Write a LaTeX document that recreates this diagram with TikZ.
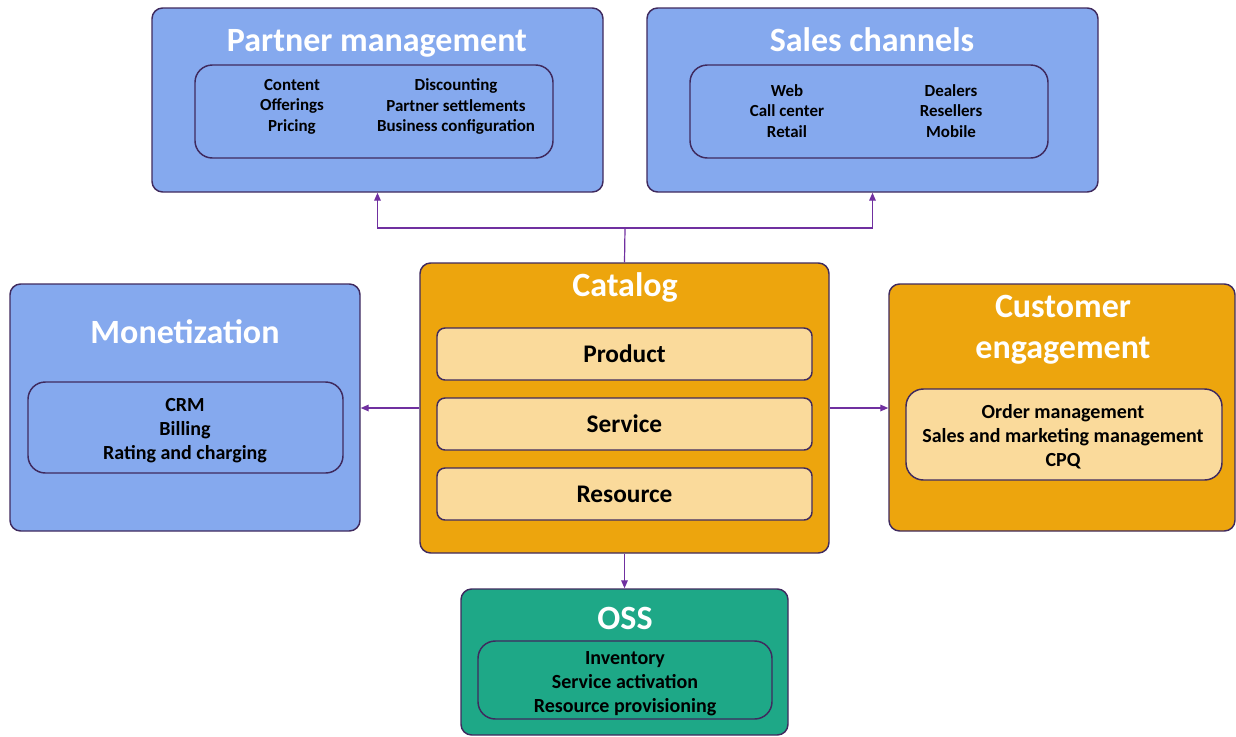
\documentclass[tikz,border=0pt]{standalone}
\usepackage{fontspec}
\setmainfont{Carlito}
\usetikzlibrary{fit,arrows.meta}
\definecolor{boxblue}{RGB}{133,169,238}
\definecolor{boxorange}{RGB}{237,165,13}
\definecolor{boxpeach}{RGB}{250,218,155}
\definecolor{boxteal}{RGB}{30,168,135}
\definecolor{edge}{RGB}{63,42,94}
\definecolor{linkc}{RGB}{112,48,160}
\begin{document}
\begin{tikzpicture}[x=0.75pt,y=-0.75pt,
  outer/.style={draw=edge, line width=1.1pt, rounded corners=8pt, inner sep=0pt},
  inner/.style={draw=edge, line width=1.1pt, rounded corners=13pt, inner sep=0pt},
  subbox/.style={draw=edge, line width=1.1pt, rounded corners=6pt, inner sep=0pt, fill=boxpeach,
    minimum width=281.25pt, minimum height=39pt},
  sublabel/.style={font=\bfseries\fontsize{19}{23}\selectfont},
  title/.style={text=white, align=center, font=\bfseries\fontsize{25.5}{30.75}\selectfont},
  smallitems/.style={align=center, font=\bfseries\fontsize{12.7}{15.4}\selectfont},
  items/.style={align=center, font=\bfseries\fontsize{15}{18}\selectfont},
  wire/.style={draw=linkc, line width=0.9pt},
  arrow/.style={wire, -{Triangle[length=6pt,width=5pt]}}]
\useasboundingbox (0,0) rectangle (1236,736);

% Partner management
\node[outer, fill=boxblue, fit={(152,8) (603,192)}] (pm) {};
\node[inner, fit={(195,65) (553,158)}] (pmin) {};
\node[title] (pmt) at (377,43) {Partner management};
\node[smallitems] (pma) at (292,106.5) {Content\\Offerings\\Pricing};
\node[smallitems] (pmb) at (456,106.5) {Discounting\\Partner settlements\\Business configuration};

% Sales channels
\node[outer, fill=boxblue, fit={(647,8) (1098,192)}] (sc) {};
\node[inner, fit={(690,65) (1048,158)}] (scin) {};
\node[title] (sct) at (872,40) {Sales channels};
\node[smallitems] (sca) at (787,111) {Web\\Call center\\Retail};
\node[smallitems] (scb) at (951,111) {Dealers\\Resellers\\Mobile};

% Monetization
\node[outer, fill=boxblue, fit={(10,284) (360,531)}] (mon) {};
\node[inner, fit={(28,382) (343,473)}] (monin) {};
\node[title] (mont) at (185,332) {Monetization};
\node[items] (monx) at (185,431) {CRM\\Billing\\Rating and charging};

% Catalog
\node[outer, fill=boxorange, fit={(420,263) (829,553)}] (cat) {};
\node[title] (catt) at (625,287) {Catalog};
\node[subbox] (prod) at (624.5,354) {};
\node[subbox] (serv) at (624.5,424) {};
\node[subbox] (res) at (624.5,494) {};
\node[sublabel] (prodt) at (prod.center) {Product};
\node[sublabel] (servt) at (serv.center) {Service};
\node[sublabel] (rest) at (res.center) {Resource};

% Customer engagement
\node[outer, fill=boxorange, fit={(889,284) (1235,531)}] (ce) {};
\node[inner, fill=boxpeach, fit={(906,389) (1222,480)}] (cein) {};
\node[title] (cet) at (1063,330) {Customer\\engagement};
\node[items] (cex) at (1063,437) {Order management\\Sales and marketing management\\CPQ};

% OSS
\node[outer, fill=boxteal, fit={(461,589) (788,735)}] (oss) {};
\node[inner, fit={(478,641) (772,719)}] (ossin) {};
\node[title] (osst) at (625,618) {OSS};
\node[items] (ossx) at (625,684) {Inventory\\Service activation\\Resource provisioning};

% Connectors
\coordinate (hub) at (625,228);
\draw[wire] (cat.north) -- (hub);
\draw[arrow] (hub) -| (pm.south);
\draw[arrow] (hub) -| (sc.south);
\draw[arrow] (cat.west) -- (cat.west -| mon.east);
\draw[arrow] (cat.east) -- (cat.east -| ce.west);
\draw[arrow] (cat.south) -- (cat.south |- oss.north);
\end{tikzpicture}
\end{document}
